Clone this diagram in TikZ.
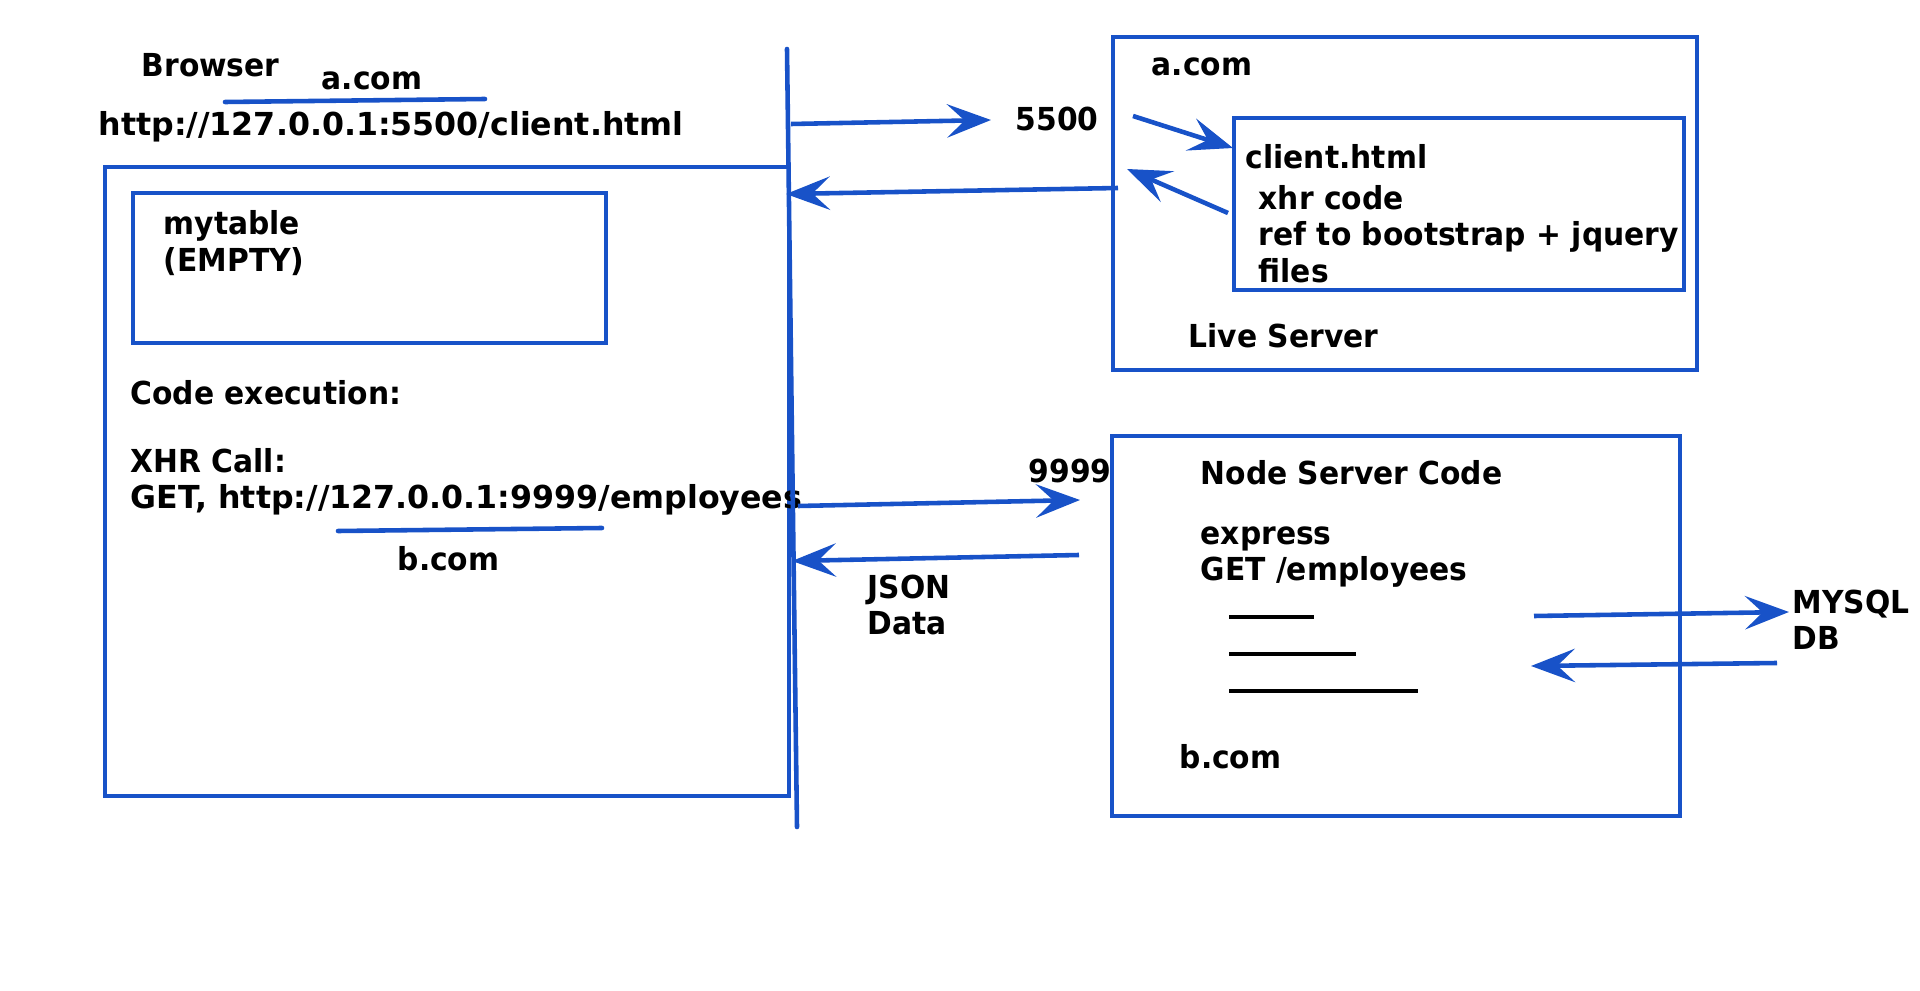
\documentclass[tikz,border=0pt]{standalone}
\usepackage{fontspec}
\setmainfont{DejaVu Sans}[FakeStretch=0.94]
\newfontfamily\urlfont{DejaVu Sans}
\usetikzlibrary{arrows.meta}
\definecolor{penblue}{RGB}{24,82,200}
\tikzset{
  txt/.style={anchor=west, inner sep=0pt, align=left, font=\bfseries\fontsize{9}{10.3}\selectfont},
  box/.style={draw=penblue, line width=1.3pt},
  uline/.style={draw=penblue, line width=1.3pt, line cap=round},
  flow/.style={draw=penblue, line width=1.3pt, -{Stealth[length=12.5pt,width=9.5pt,inset=5pt]}},
  blank/.style={draw=black, line width=1pt}
}
\begin{document}
\begin{tikzpicture}[x=0.01cm, y=-0.01cm]
\useasboundingbox (0,0) rectangle (1920,991);

% browser side
\node[txt] (browser) at (141,65) {Browser};
\node[txt] (acomL) at (321,81) {a.com};
\coordinate (ul1a) at (225,102);
\coordinate (ul1b) at (485,99);
\draw[uline] (ul1a) -- (ul1b);
\node[txt] (url) at (98,127) {\urlfont http://127.0.0.1:5500/client.html};

\draw[box] (105,167) rectangle (789,796);
\draw[box] (133,193) rectangle (606,343);
\node[txt] (mytable) at (163,243) {mytable\\(EMPTY)};
\node[txt] (exec) at (130,393) {Code execution:};
\node[txt] (xhr) at (130,482) {XHR Call:\\{\urlfont GET, http://127.0.0.1:9999/employees}};
\coordinate (ul2a) at (338,531);
\coordinate (ul2b) at (602,528);
\draw[uline] (ul2a) -- (ul2b);
\node[txt] (bcomL) at (397,559) {b.com};

% divider
\coordinate (divtop) at (787,49);
\coordinate (divbot) at (797,827);
\draw[uline] (divtop) -- (divbot);

% live server
\draw[box] (1113,37) rectangle (1697,370);
\node[txt] (acomR) at (1151,67) {a.com};
\draw[box] (1234,118) rectangle (1684,290);
\node[txt] (client) at (1245,157) {client.html};
\node[txt] (xhrcode) at (1258,234) {xhr code\\ref to bootstrap + jquery\\files};
\node[txt] (live) at (1188,336) {Live Server};
\node[txt] (p5500) at (1015,119) {5500};

\coordinate (r1s) at (791,124);
\coordinate (r1e) at (991,120);
\draw[flow] (r1s) -- (r1e);
\coordinate (r2s) at (1118,188);
\coordinate (r2e) at (786,194);
\draw[flow] (r2s) -- (r2e);
\coordinate (r3s) at (1133,116);
\coordinate (r3e) at (1233,148);
\draw[flow] (r3s) -- (r3e);
\coordinate (r4s) at (1228,213);
\coordinate (r4e) at (1127,169);
\draw[flow] (r4s) -- (r4e);

% node server
\draw[box] (1112,436) rectangle (1680,816);
\node[txt] (p9999) at (1028,471) {9999};
\node[txt] (nodecode) at (1200,473) {Node Server Code};
\node[txt] (express) at (1200,557) {express\\GET /employees};
\coordinate (bl1a) at (1229,617);
\coordinate (bl1b) at (1314,617);
\draw[blank] (bl1a) -- (bl1b);
\coordinate (bl2a) at (1229,654);
\coordinate (bl2b) at (1356,654);
\draw[blank] (bl2a) -- (bl2b);
\coordinate (bl3a) at (1229,691);
\coordinate (bl3b) at (1418,691);
\draw[blank] (bl3a) -- (bl3b);
\node[txt] (bcomR) at (1179,757) {b.com};

\coordinate (q1s) at (798,506);
\coordinate (q1e) at (1080,500);
\draw[flow] (q1s) -- (q1e);
\coordinate (q2s) at (1079,555);
\coordinate (q2e) at (792,561);
\draw[flow] (q2s) -- (q2e);
\node[txt] (json) at (867,605) {JSON\\Data};

% database
\coordinate (d1s) at (1534,616);
\coordinate (d1e) at (1789,612);
\draw[flow] (d1s) -- (d1e);
\coordinate (d2s) at (1777,663);
\coordinate (d2e) at (1531,666);
\draw[flow] (d2s) -- (d2e);
\node[txt] (mysql) at (1792,620) {MYSQL\\DB};

\end{tikzpicture}
\end{document}
